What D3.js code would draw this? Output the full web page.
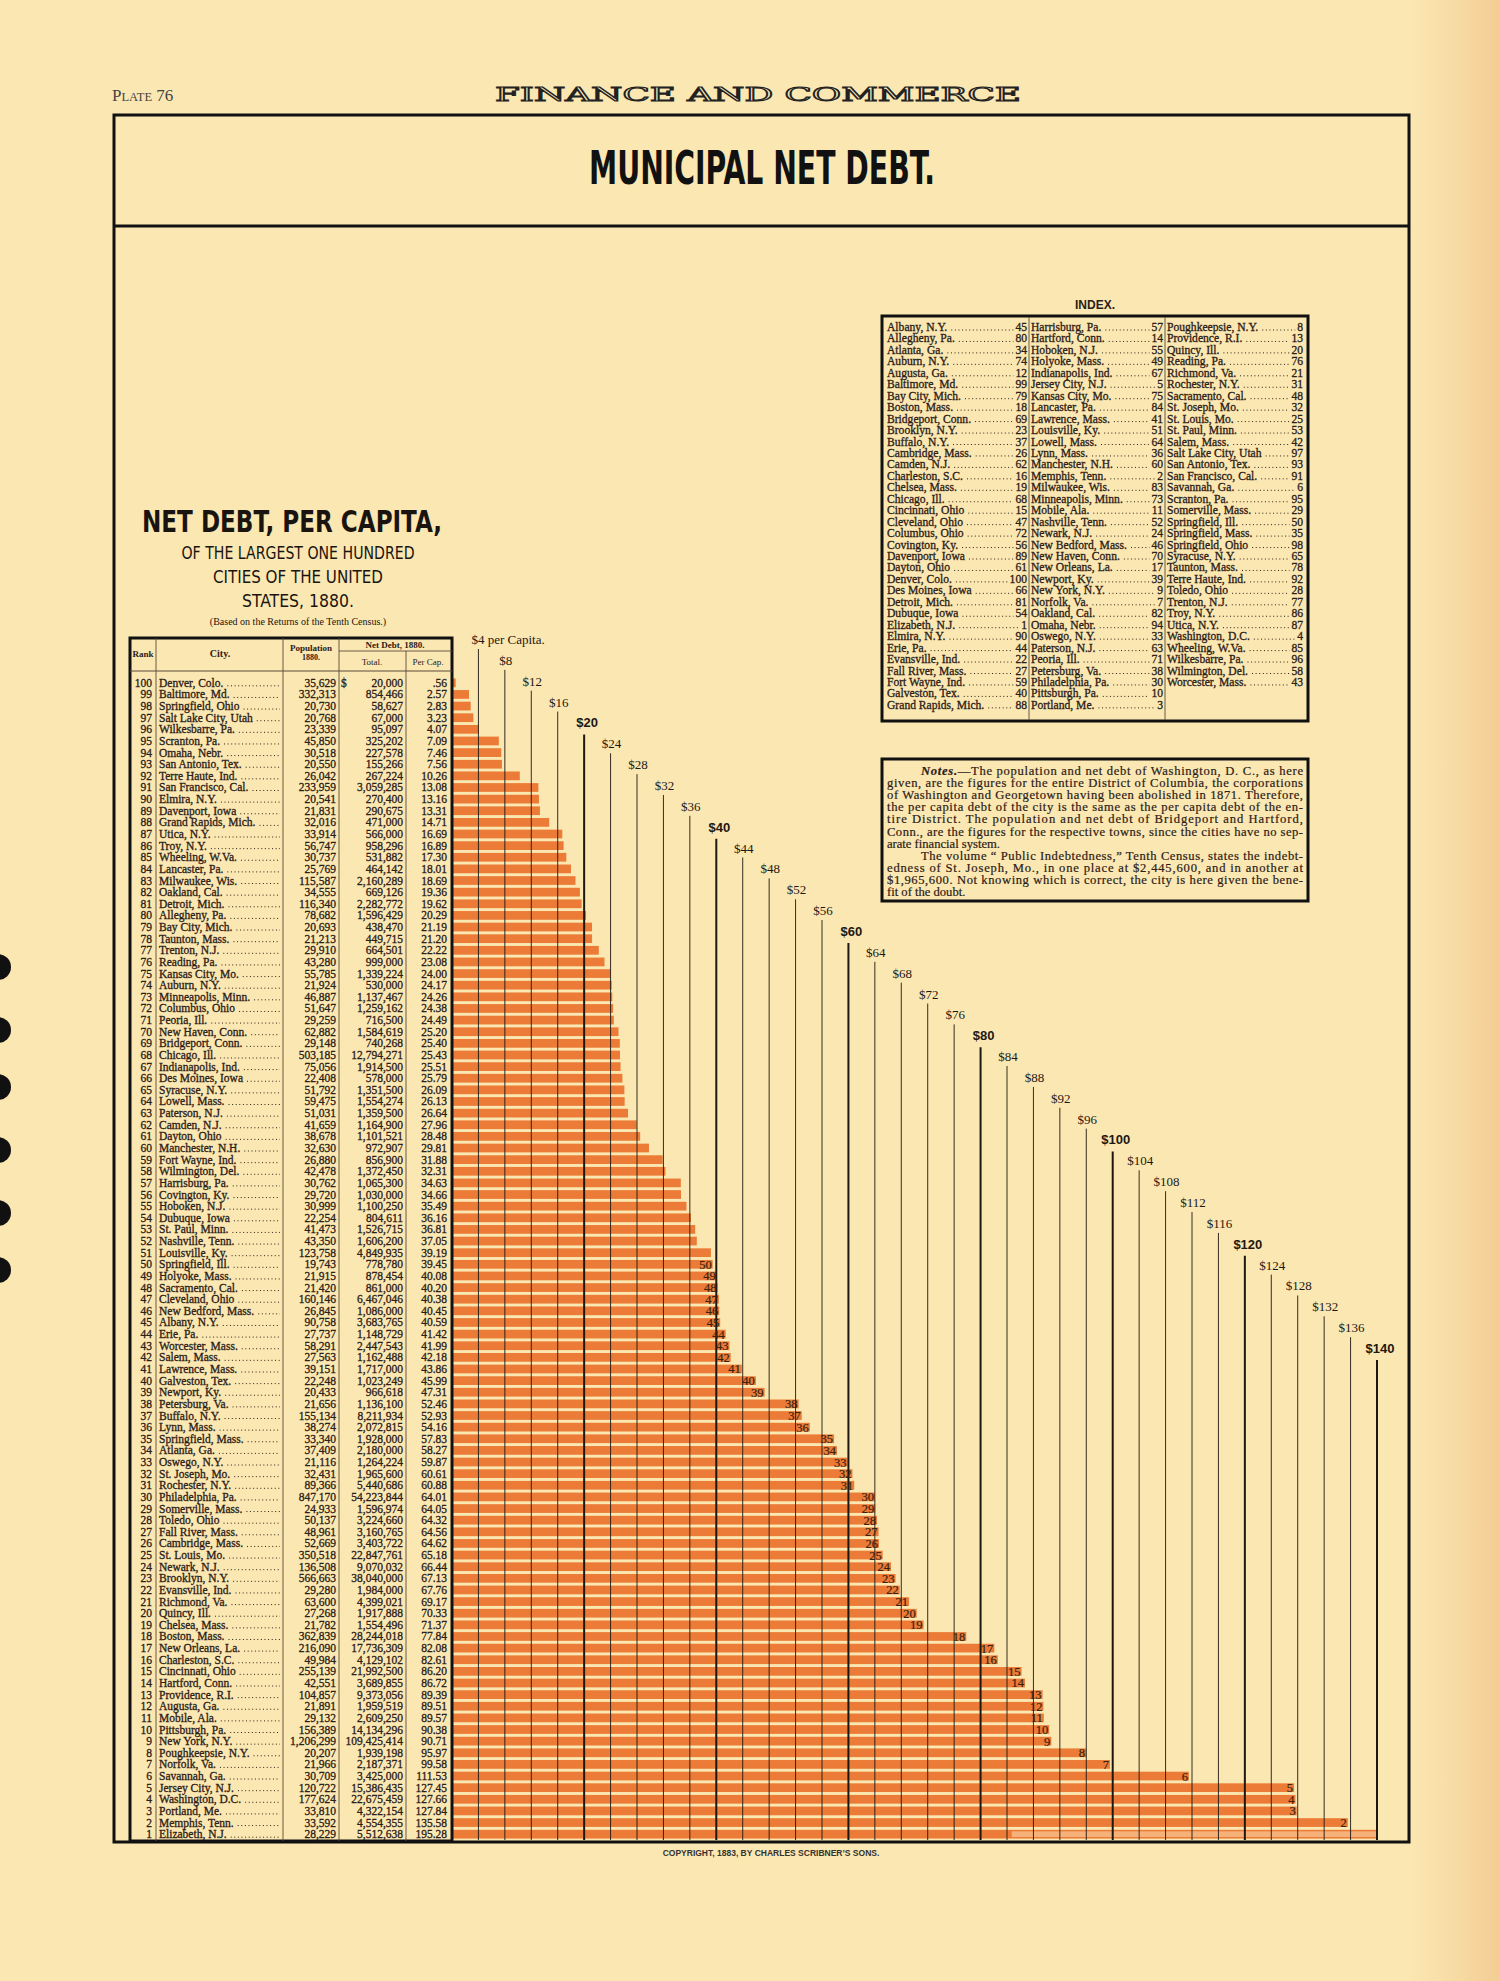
<!DOCTYPE html>
<html>
<head>
<meta charset="utf-8">
<script src="https://cdn.jsdelivr.net/npm/d3@7"></script>
<style>
  body { margin: 0; background: #fbe7b2; }
  svg { display: block; }
</style>
</head>
<body>
<svg id="chart" width="1500" height="1981"></svg>
<script>
// Table rows, rank 100 (top) down to rank 1 (bottom)
const cities = [
  "Denver, Colo.", "Baltimore, Md.", "Springfield, Ohio", "Salt Lake City, Utah", "Wilkesbarre, Pa.",
  "Scranton, Pa.", "Omaha, Nebr.", "San Antonio, Tex.", "Terre Haute, Ind.", "San Francisco, Cal.",
  "Elmira, N.Y.", "Davenport, Iowa", "Grand Rapids, Mich.", "Utica, N.Y.", "Troy, N.Y.",
  "Wheeling, W.Va.", "Lancaster, Pa.", "Milwaukee, Wis.", "Oakland, Cal.", "Detroit, Mich.",
  "Allegheny, Pa.", "Bay City, Mich.", "Taunton, Mass.", "Trenton, N.J.", "Reading, Pa.",
  "Kansas City, Mo.", "Auburn, N.Y.", "Minneapolis, Minn.", "Columbus, Ohio", "Peoria, Ill.",
  "New Haven, Conn.", "Bridgeport, Conn.", "Chicago, Ill.", "Indianapolis, Ind.", "Des Moines, Iowa",
  "Syracuse, N.Y.", "Lowell, Mass.", "Paterson, N.J.", "Camden, N.J.", "Dayton, Ohio",
  "Manchester, N.H.", "Fort Wayne, Ind.", "Wilmington, Del.", "Harrisburg, Pa.", "Covington, Ky.",
  "Hoboken, N.J.", "Dubuque, Iowa", "St. Paul, Minn.", "Nashville, Tenn.", "Louisville, Ky.",
  "Springfield, Ill.", "Holyoke, Mass.", "Sacramento, Cal.", "Cleveland, Ohio", "New Bedford, Mass.",
  "Albany, N.Y.", "Erie, Pa.", "Worcester, Mass.", "Salem, Mass.", "Lawrence, Mass.",
  "Galveston, Tex.", "Newport, Ky.", "Petersburg, Va.", "Buffalo, N.Y.", "Lynn, Mass.",
  "Springfield, Mass.", "Atlanta, Ga.", "Oswego, N.Y.", "St. Joseph, Mo.", "Rochester, N.Y.",
  "Philadelphia, Pa.", "Somerville, Mass.", "Toledo, Ohio", "Fall River, Mass.", "Cambridge, Mass.",
  "St. Louis, Mo.", "Newark, N.J.", "Brooklyn, N.Y.", "Evansville, Ind.", "Richmond, Va.",
  "Quincy, Ill.", "Chelsea, Mass.", "Boston, Mass.", "New Orleans, La.", "Charleston, S.C.",
  "Cincinnati, Ohio", "Hartford, Conn.", "Providence, R.I.", "Augusta, Ga.", "Mobile, Ala.",
  "Pittsburgh, Pa.", "New York, N.Y.", "Poughkeepsie, N.Y.", "Norfolk, Va.", "Savannah, Ga.",
  "Jersey City, N.J.", "Washington, D.C.", "Portland, Me.", "Memphis, Tenn.", "Elizabeth, N.J."
];

const population = [
  35629, 332313, 20730, 20768, 23339, 45850, 30518, 20550, 26042, 233959,
  20541, 21831, 32016, 33914, 56747, 30737, 25769, 115587, 34555, 116340,
  78682, 20693, 21213, 29910, 43280, 55785, 21924, 46887, 51647, 29259,
  62882, 29148, 503185, 75056, 22408, 51792, 59475, 51031, 41659, 38678,
  32630, 26880, 42478, 30762, 29720, 30999, 22254, 41473, 43350, 123758,
  19743, 21915, 21420, 160146, 26845, 90758, 27737, 58291, 27563, 39151,
  22248, 20433, 21656, 155134, 38274, 33340, 37409, 21116, 32431, 89366,
  847170, 24933, 50137, 48961, 52669, 350518, 136508, 566663, 29280, 63600,
  27268, 21782, 362839, 216090, 49984, 255139, 42551, 104857, 21891, 29132,
  156389, 1206299, 20207, 21966, 30709, 120722, 177624, 33810, 33592, 28229
];

const totalDebt = [
  20000, 854466, 58627, 67000, 95097, 325202, 227578, 155266, 267224, 3059285,
  270400, 290675, 471000, 566000, 958296, 531882, 464142, 2160289, 669126, 2282772,
  1596429, 438470, 449715, 664501, 999000, 1339224, 530000, 1137467, 1259162, 716500,
  1584619, 740268, 12794271, 1914500, 578000, 1351500, 1554274, 1359500, 1164900, 1101521,
  972907, 856900, 1372450, 1065300, 1030000, 1100250, 804611, 1526715, 1606200, 4849935,
  778780, 878454, 861000, 6467046, 1086000, 3683765, 1148729, 2447543, 1162488, 1717000,
  1023249, 966618, 1136100, 8211934, 2072815, 1928000, 2180000, 1264224, 1965600, 5440686,
  54223844, 1596974, 3224660, 3160765, 3403722, 22847761, 9070032, 38040000, 1984000, 4399021,
  1917888, 1554496, 28244018, 17736309, 4129102, 21992500, 3689855, 9373056, 1959519, 2609250,
  14134296, 109425414, 1939198, 2187371, 3425000, 15386435, 22675459, 4322154, 4554355, 5512638
];

const perCapita = [
  0.56, 2.57, 2.83, 3.23, 4.07, 7.09, 7.46, 7.56, 10.26, 13.08,
  13.16, 13.31, 14.71, 16.69, 16.89, 17.30, 18.01, 18.69, 19.36, 19.62,
  20.29, 21.19, 21.20, 22.22, 23.08, 24.00, 24.17, 24.26, 24.38, 24.49,
  25.20, 25.40, 25.43, 25.51, 25.79, 26.09, 26.13, 26.64, 27.96, 28.48,
  29.81, 31.88, 32.31, 34.63, 34.66, 35.49, 36.16, 36.81, 37.05, 39.19,
  39.45, 40.08, 40.20, 40.38, 40.45, 40.59, 41.42, 41.99, 42.18, 43.86,
  45.99, 47.31, 52.46, 52.93, 54.16, 57.83, 58.27, 59.87, 60.61, 60.88,
  64.01, 64.05, 64.32, 64.56, 64.62, 65.18, 66.44, 67.13, 67.76, 69.17,
  70.33, 71.37, 77.84, 82.08, 82.61, 86.20, 86.72, 89.39, 89.51, 89.57,
  90.38, 90.71, 95.97, 99.58, 111.53, 127.45, 127.66, 127.84, 135.58, 195.28
];

// dollar guide lines
const dollarTicks = [4, 8, 12, 16, 20, 24, 28, 32, 36, 40, 44, 48, 52, 56, 60, 64, 68,
  72, 76, 80, 84, 88, 92, 96, 100, 104, 108, 112, 116, 120, 124, 128, 132, 136, 140];

const notesLines = [
  "given, are the figures for the entire District of Columbia, the corporations",
  "of Washington and Georgetown having been abolished in 1871.  Therefore,",
  "the per capita debt of the city is the same as the per capita debt of the en-",
  "tire District.  The population and net debt of Bridgeport and Hartford,",
  "Conn., are the figures for the respective towns, since the cities have no sep-",
  "arate financial system.",
  "The volume \u201C Public Indebtedness,\u201D Tenth Census, states the indebt-",
  "edness of St. Joseph, Mo., in one place at $2,445,600, and in another at",
  "$1,965,600.  Not knowing which is correct, the city is here given the bene-",
  "fit of the doubt."
];

const rows = cities.map((c, i) => ({
  rank: 100 - i, city: c, pop: population[i], total: totalDebt[i], per: perCapita[i]
}));

const ink = "#2b2016";
const orange = "#eb7b36";
const serif = "'Liberation Serif', 'DejaVu Serif', serif";
const narrow = "'Liberation Sans Narrow', 'DejaVu Sans Condensed', 'Liberation Sans', sans-serif";
const sans = "'Liberation Sans', 'DejaVu Sans', sans-serif";

const svg = d3.select("#chart");

// paper and right-edge shading
const defs = svg.append("defs");
const grad = defs.append("linearGradient").attr("id", "edge").attr("x1", 0).attr("x2", 1);
grad.append("stop").attr("offset", "0").attr("stop-color", "#e89a5a").attr("stop-opacity", 0);
grad.append("stop").attr("offset", "1").attr("stop-color", "#e0914f").attr("stop-opacity", 0.3);
svg.append("rect").attr("width", 1500).attr("height", 1981).attr("fill", "#fbe7b2");
svg.append("rect").attr("x", 1410).attr("width", 90).attr("height", 1981).attr("fill", "url(#edge)");

// binding holes
const holes = [967, 1030, 1087, 1150, 1213, 1270];
svg.selectAll("circle.hole").data(holes).join("circle")
  .attr("cx", -2).attr("cy", d => d).attr("r", 13).attr("fill", "#111");

// header
const plate = svg.append("text").attr("x", 112).attr("y", 101).attr("fill", "#444")
  .attr("font-family", serif);
plate.append("tspan").attr("font-size", 17).text("P");
plate.append("tspan").attr("font-size", 12.5).text("LATE");
plate.append("tspan").attr("font-size", 17).text(" 76");

svg.append("text").attr("x", 758).attr("y", 101).attr("text-anchor", "middle")
  .attr("font-family", "'DejaVu Serif', serif").attr("font-size", 19)
  .attr("fill", "#fbe7b2").attr("stroke", "#222").attr("stroke-width", 1.1)
  .attr("textLength", 526).attr("lengthAdjust", "spacingAndGlyphs")
  .text("FINANCE AND COMMERCE");

// frame
svg.append("rect").attr("x", 114).attr("y", 115).attr("width", 1295).attr("height", 1727)
  .attr("fill", "none").attr("stroke", "#111").attr("stroke-width", 3);
svg.append("line").attr("x1", 114).attr("x2", 1409).attr("y1", 226).attr("y2", 226)
  .attr("stroke", "#111").attr("stroke-width", 3);

svg.append("text").attr("x", 762).attr("y", 184).attr("text-anchor", "middle")
  .attr("font-family", narrow).attr("font-weight", "bold").attr("font-size", 46)
  .attr("fill", "#111").attr("textLength", 346).attr("lengthAdjust", "spacingAndGlyphs")
  .text("MUNICIPAL NET DEBT.");

// left heading
const head = svg.append("g").attr("fill", "#1a1410").attr("text-anchor", "middle");
head.append("text").attr("x", 292).attr("y", 532).attr("font-family", narrow)
  .attr("font-weight", "bold").attr("font-size", 31)
  .attr("textLength", 300).attr("lengthAdjust", "spacingAndGlyphs").text("NET DEBT, PER CAPITA,");
[["OF THE LARGEST ONE HUNDRED", 559, 233], ["CITIES OF THE UNITED", 583, 170], ["STATES, 1880.", 607, 112]]
  .forEach(([t, y, w]) => head.append("text").attr("x", 298).attr("y", y)
    .attr("font-family", narrow).attr("font-size", 18)
    .attr("textLength", w).attr("lengthAdjust", "spacingAndGlyphs").text(t));
head.append("text").attr("x", 298).attr("y", 625).attr("font-family", serif).attr("font-size", 10)
  .text("(Based on the Returns of the Tenth Census.)");

// scales
const x = d3.scaleLinear().domain([0, 140]).range([452, 1377]);
const y = d3.scaleBand().domain(rows.map(d => d.rank)).range([677, 1840])
  .paddingInner(0.25).paddingOuter(0.125);
const labelY = d3.scaleLinear().domain([4, 140]).range([644, 1353]);

// bars
const bars = svg.append("g");
bars.selectAll("rect.bar").data(rows).join("rect")
  .attr("class", "bar")
  .attr("x", x(0))
  .attr("y", d => y(d.rank))
  .attr("width", d => x(Math.min(d.per, 140)) - x(0))
  .attr("height", y.bandwidth())
  .attr("fill", orange);

// overflow of the largest value beyond the $140 line, folded back
const over = rows.filter(d => d.per > 140);
bars.selectAll("rect.over").data(over).join("rect")
  .attr("class", "over")
  .attr("x", d => x(140 - (d.per - 140)))
  .attr("y", d => y(d.rank) + 1.5)
  .attr("width", d => x(140) - x(140 - (d.per - 140)))
  .attr("height", y.bandwidth() - 3)
  .attr("fill", "#f6b07a");

// guide lines
const guides = svg.append("g");
guides.selectAll("line").data(dollarTicks).join("line")
  .attr("x1", d => x(d)).attr("x2", d => x(d))
  .attr("y1", d => labelY(d) + (d % 20 === 0 ? 7 : 5))
  .attr("y2", 1840)
  .attr("stroke", "#1e1812")
  .attr("stroke-width", d => d % 20 === 0 ? 2 : 0.9);

guides.selectAll("text").data(dollarTicks).join("text")
  .attr("x", d => d === 4 ? x(d) - 7 : x(d) + (d % 20 === 0 ? 3 : 1))
  .attr("y", d => labelY(d))
  .attr("text-anchor", d => d === 4 ? "start" : "middle")
  .attr("font-family", d => d % 20 === 0 ? sans : serif)
  .attr("font-weight", d => d % 20 === 0 ? "bold" : "normal")
  .attr("font-size", 13)
  .attr("fill", "#1e1812")
  .text(d => d === 4 ? "$4 per Capita." : "$" + d);

// rank labels at the bar ends
svg.append("g").selectAll("text").data(rows.filter(d => d.rank <= 50 && d.rank > 1)).join("text")
  .attr("x", d => x(Math.min(d.per, 140)) - 1)
  .attr("y", d => y(d.rank) + y.bandwidth() / 2 + 4.5)
  .attr("text-anchor", "end")
  .attr("font-family", serif).attr("font-size", 12.5)
  .attr("fill", "#3a2212").attr("stroke", "#3a2212").attr("stroke-width", 0.2)
  .text(d => d.rank);

// table
const tbl = svg.append("g").attr("font-family", serif).attr("fill", ink);
const tTop = 638, tBot = 1841, tL = 130, tR = 452;
const colLines = [156, 283, 339, 406];
tbl.append("rect").attr("x", tL).attr("y", tTop).attr("width", tR - tL).attr("height", tBot - tTop)
  .attr("fill", "none").attr("stroke", "#111").attr("stroke-width", 3);
colLines.forEach((cx, i) => tbl.append("line")
  .attr("x1", cx).attr("x2", cx).attr("y1", i === 3 ? 651 : tTop).attr("y2", tBot)
  .attr("stroke", "#5a4a3a").attr("stroke-width", 0.9));
tbl.append("line").attr("x1", tL).attr("x2", tR).attr("y1", 671).attr("y2", 671)
  .attr("stroke", "#5a4a3a").attr("stroke-width", 1);
tbl.append("line").attr("x1", 339).attr("x2", tR).attr("y1", 651).attr("y2", 651)
  .attr("stroke", "#5a4a3a").attr("stroke-width", 0.9);

const hdr = tbl.append("g").attr("font-weight", "bold").attr("text-anchor", "middle").attr("font-size", 9);
hdr.append("text").attr("x", 143).attr("y", 657).text("Rank");
hdr.append("text").attr("x", 220).attr("y", 657).attr("font-size", 10).text("City.");
hdr.append("text").attr("x", 311).attr("y", 651).text("Population");
hdr.append("text").attr("x", 311).attr("y", 660).attr("font-size", 8).text("1880.");
hdr.append("text").attr("x", 395).attr("y", 648).text("Net Debt, 1880.");
hdr.append("text").attr("x", 372).attr("y", 665).attr("font-weight", "normal").text("Total.");
hdr.append("text").attr("x", 428).attr("y", 665).attr("font-weight", "normal").text("Per Cap.");

const fmt = d3.format(",");
const fmtPer = v => d3.format(".2f")(v).replace(/^0\./, ".");
const rowG = tbl.append("g").attr("font-size", 11.5).attr("stroke", ink).attr("stroke-width", 0.3);
const rowSel = rowG.selectAll("g").data(rows).join("g")
  .attr("transform", d => `translate(0,${y(d.rank) + y.bandwidth() / 2 + 4})`);
rowSel.append("text").attr("x", 152).attr("text-anchor", "end").text(d => d.rank);
const cityText = rowSel.append("text").attr("x", 159).text(d => d.city);
rowSel.append("text").attr("x", 336).attr("text-anchor", "end").text(d => fmt(d.pop));
rowSel.append("text").attr("x", 403).attr("text-anchor", "end").text(d => fmt(d.total));
rowSel.append("text").attr("x", 447).attr("text-anchor", "end").text(d => fmtPer(d.per));
rowSel.filter(d => d.rank === 100).append("text").attr("x", 341).text("$");
cityText.each(function () {
  const w = this.getComputedTextLength();
  d3.select(this.parentNode).append("line")
    .attr("x1", 159 + w + 4).attr("x2", 280).attr("y1", -1).attr("y2", -1)
    .attr("stroke", ink).attr("stroke-width", 1).attr("stroke-dasharray", "1 2.6");
});

// index
const sortKey = s => s.toLowerCase().replace(/^st\./, "saint").replace(/[^a-z]/g, "");
const indexRows = rows.slice().sort((a, b) => d3.ascending(sortKey(a.city), sortKey(b.city)));
const idx = svg.append("g").attr("font-family", serif).attr("fill", ink);
idx.append("text").attr("x", 1095).attr("y", 309).attr("text-anchor", "middle")
  .attr("font-family", sans).attr("font-weight", "bold").attr("font-size", 12).text("INDEX.");
idx.append("rect").attr("x", 882).attr("y", 316).attr("width", 426).attr("height", 405)
  .attr("fill", "none").attr("stroke", "#111").attr("stroke-width", 3);
[1029, 1165].forEach(cx => idx.append("line").attr("x1", cx).attr("x2", cx).attr("y1", 317).attr("y2", 720)
  .attr("stroke", "#5a4a3a").attr("stroke-width", 0.9));
const idxCols = [{ x0: 887, x1: 1027 }, { x0: 1031, x1: 1163 }, { x0: 1167, x1: 1303 }];
const idxG = idx.append("g").attr("font-size", 11.6).attr("stroke", ink).attr("stroke-width", 0.3);
indexRows.forEach((d, i) => {
  const col = idxCols[Math.floor(i / 34)], r = i % 34;
  const yy = 331 + r * 11.45;
  const g = idxG.append("g");
  const t = g.append("text").attr("x", col.x0).attr("y", yy).text(d.city);
  const n = g.append("text").attr("x", col.x1).attr("y", yy).attr("text-anchor", "end").text(d.rank);
  const a = col.x0 + t.node().getComputedTextLength() + 4;
  const b = col.x1 - n.node().getComputedTextLength() - 2;
  if (b > a) g.append("line").attr("x1", a).attr("x2", b).attr("y1", yy - 1).attr("y2", yy - 1)
    .attr("stroke-width", 1).attr("stroke-dasharray", "1 2.6");
});

// notes
const notes = svg.append("g").attr("font-family", serif).attr("fill", ink).attr("font-size", 12.6)
  .attr("stroke", ink).attr("stroke-width", 0.2);
notes.append("rect").attr("x", 882).attr("y", 759).attr("width", 426).attr("height", 142)
  .attr("fill", "none").attr("stroke", "#111").attr("stroke-width", 3);
const n0 = notes.append("text").attr("x", 921).attr("y", 775)
  .attr("textLength", 382).attr("lengthAdjust", "spacing");
n0.append("tspan").attr("font-weight", "bold").attr("font-style", "italic").text("Notes.");
n0.append("tspan").text("\u2014The population and net debt of Washington, D. C., as here");
notesLines.forEach((t, i) => {
  const indent = i === 6;
  const justify = !(i === 5 || i === 9);
  const tx = notes.append("text").attr("x", indent ? 921 : 887).attr("y", 787.1 + i * 12.1).text(t);
  if (justify) tx.attr("textLength", indent ? 382 : 416).attr("lengthAdjust", "spacing");
});

// copyright
svg.append("text").attr("x", 771).attr("y", 1856).attr("text-anchor", "middle")
  .attr("font-family", sans).attr("font-size", 8.5).attr("font-weight", "bold").attr("fill", "#333")
  .text("COPYRIGHT, 1883, BY CHARLES SCRIBNER\u2019S SONS.");
</script>
</body>
</html>
